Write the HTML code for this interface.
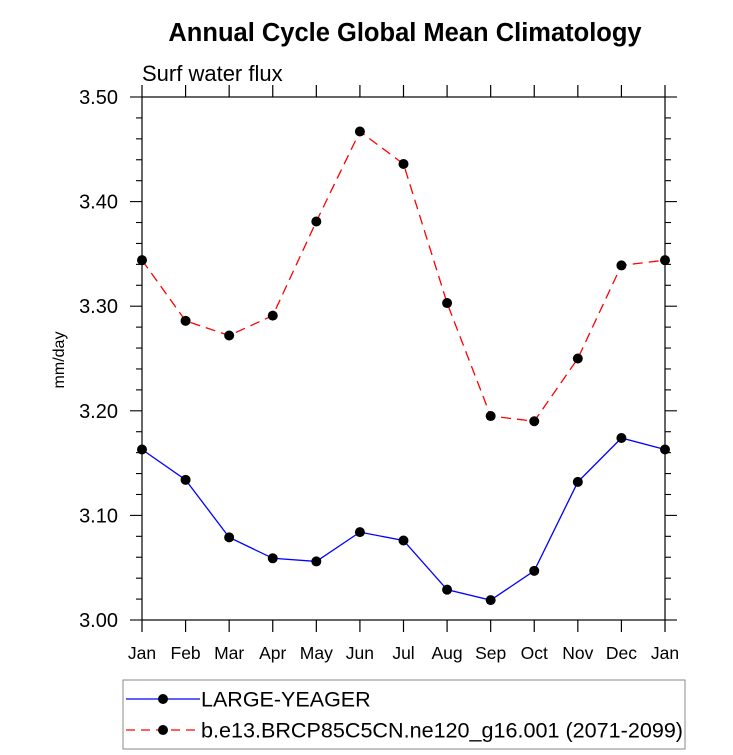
<!DOCTYPE html>
<html><head><meta charset="utf-8"><style>
body{margin:0;background:#fff}
svg{display:block;font-family:"Liberation Sans",Arial,sans-serif}
</style></head><body>
<svg id="chart" width="733" height="755">
<text x="405" y="41" text-anchor="middle" font-size="25.5" font-weight="bold">Annual Cycle Global Mean Climatology</text>
<text x="142" y="81" font-size="22">Surf water flux</text>
<text transform="translate(64,360) rotate(-90)" text-anchor="middle" font-size="16">mm/day</text>
<rect x="142" y="97" width="523" height="523" fill="none" stroke="#000" stroke-width="1.2"/>
<g id="axes"></g>
<g id="series"></g>
<g>
<rect x="123" y="680" width="562" height="69" fill="none" stroke="#888" stroke-width="1"/>
<g>
<line x1="126" y1="699" x2="200" y2="699" stroke="#0000ff" stroke-width="1.2"/>
<circle cx="163" cy="699" r="5" fill="#000"/>
<text x="201" y="706.5" font-size="21.5">LARGE-YEAGER</text></g>
<g>
<line x1="126" y1="730" x2="200" y2="730" stroke="#ff0000" stroke-width="1.2" stroke-dasharray="9,6"/>
<circle cx="163" cy="730" r="5" fill="#000"/>
<text x="201" y="737.5" font-size="21.5" textLength="482" lengthAdjust="spacingAndGlyphs">b.e13.BRCP85C5CN.ne120_g16.001 (2071-2099)</text></g>
</g>
</svg>
<script>
const months=["Jan","Feb","Mar","Apr","May","Jun","Jul","Aug","Sep","Oct","Nov","Dec","Jan"];
const yTicks=[3.0,3.1,3.2,3.3,3.4,3.5];
const yTickLabels=["3.00","3.10","3.20","3.30","3.40","3.50"];
const largeYeager=[3.163,3.134,3.079,3.059,3.056,3.084,3.076,3.029,3.019,3.047,3.132,3.174,3.163];
const brcp85=[3.344,3.286,3.272,3.291,3.381,3.467,3.436,3.303,3.195,3.190,3.250,3.339,3.344];
const X0=142,X1=665,Y0=620,Y1=97,VMIN=3.0,VMAX=3.5;
function xs(i){return X0+(X1-X0)*i/(months.length-1);}
function ys(v){return Y0-(Y0-Y1)*(v-VMIN)/(VMAX-VMIN);}
const NS="http://www.w3.org/2000/svg";
function mk(t,a,p){const e=document.createElementNS(NS,t);for(const k in a)e.setAttribute(k,a[k]);p.appendChild(e);return e;}
const ax=document.getElementById('axes');
months.forEach((m,i)=>{
 const x=xs(i);
 const t1=mk('line',{x1:x,x2:x,y1:Y0,y2:Y0+12,stroke:'#000','stroke-width':1.2},ax);
 
 
 mk('line',{x1:x,x2:x,y1:Y1,y2:Y1-12,stroke:'#000','stroke-width':1.2},ax);
 const l=mk('text',{x:x,y:Y0+39,'text-anchor':'middle','font-size':17.5},ax);
 l.textContent=m;
 
 
});
for(let k=0;k<=25;k++){
 const v=VMIN+k*0.02,y=ys(v),major=k%5===0;
 const len=major?12:6;
 mk('line',{x1:X0,x2:X0-len,y1:y,y2:y,stroke:'#000','stroke-width':1.1},ax);
 mk('line',{x1:X1,x2:X1+len,y1:y,y2:y,stroke:'#000','stroke-width':1.1},ax);
}
yTicks.forEach((v,i)=>{
 const l=mk('text',{x:X0-24,y:ys(v)+7,'text-anchor':'end','font-size':20},ax);
 l.textContent=yTickLabels[i];
 
 
});
const sg=document.getElementById('series');
function drawSeries(vals,color,dash,name){
 const g=mk('g',{},sg);
 
 
 const pts=vals.map((v,i)=>xs(i)+','+ys(v)).join(' ');
 const a={points:pts,fill:'none',stroke:color,'stroke-width':1.3};
 if(dash)a['stroke-dasharray']=dash;
 mk('polyline',a,g);
 vals.forEach((v,i)=>{
  const c=mk('circle',{cx:xs(i),cy:ys(v),r:5,fill:'#000'},g);
  
  
 });
}
drawSeries(largeYeager,'#0000ff',null,'series-large-yeager');
drawSeries(brcp85,'#ff0000','10,6','series-brcp85');
</script>
</body></html>
